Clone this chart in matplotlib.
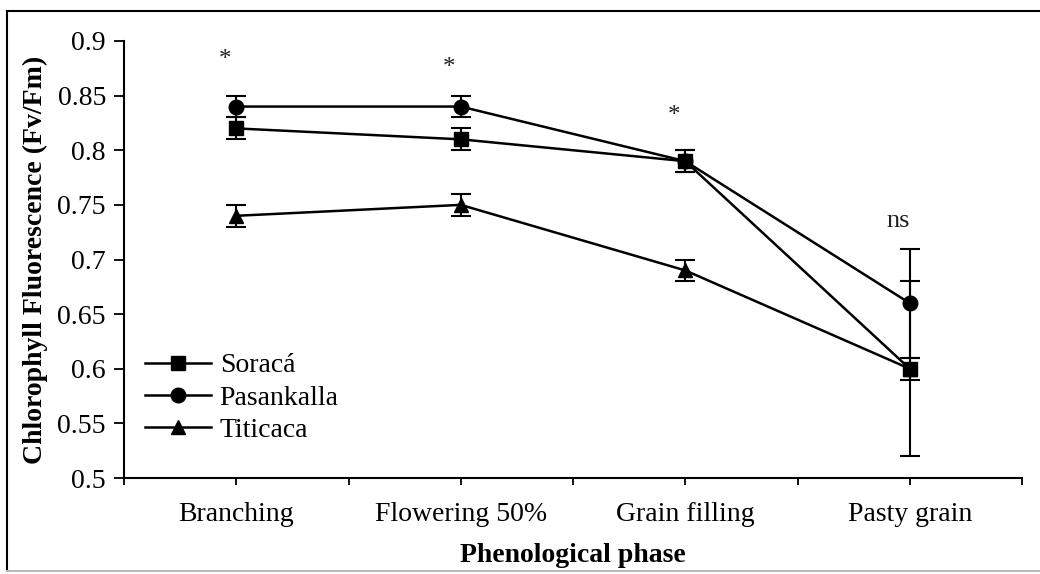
import numpy as np
import matplotlib
matplotlib.use("Agg")
import matplotlib.pyplot as plt
from matplotlib.lines import Line2D

# Data
phases = ["Branching", "Flowering 50%", "Grain filling", "Pasty grain"]
soraca = [0.82, 0.81, 0.79, 0.60]
soraca_err = [0.01, 0.01, 0.01, 0.01]
pasankalla = [0.84, 0.84, 0.79, 0.66]
pasankalla_err = [0.01, 0.01, 0.01, 0.05]
titicaca = [0.74, 0.75, 0.69, 0.60]
titicaca_err = [0.01, 0.01, 0.01, 0.08]
signif = ["*", "*", "*", "ns"]
signif_y = [0.883, 0.875, 0.831, 0.735]

plt.rcParams['font.family'] = ['Liberation Serif', 'DejaVu Serif']

W, H = 1040, 574
fig = plt.figure(figsize=(W / 100, H / 100), dpi=100)
ax = fig.add_axes([124 / W, 1 - 478 / H, (1022 - 124) / W, (478 - 41) / H])

x = np.arange(len(phases))
style = dict(color='black', lw=1.8, elinewidth=1.5, capsize=7, capthick=1.5,
             markersize=10.5)
ax.errorbar(x, titicaca, yerr=titicaca_err, marker='^', **style)
ax.errorbar(x, pasankalla, yerr=pasankalla_err, marker='o', **style)
ax.errorbar(x, soraca, yerr=soraca_err, marker='s', **style)

for xi, s, yv in zip(x, signif, signif_y):
    fs = 18 if s == "*" else 19
    ax.text(xi - 0.05, yv, s, ha='center', va='center', fontsize=fs, color='#222222')

ax.set_xlim(-0.5, 3.5)
ax.set_ylim(0.5, 0.9)
ax.set_yticks(np.arange(0.5, 0.901, 0.05))
ax.set_yticklabels(["0.5", "0.55", "0.6", "0.65", "0.7", "0.75", "0.8", "0.85", "0.9"])
ticks = np.arange(-0.5, 3.51, 0.5)
ax.set_xticks(ticks)
ax.set_xticklabels([phases[int(t)] if t >= 0 and t == int(t) else "" for t in ticks])
ax.tick_params(axis='y', direction='out', length=7, width=1.3, labelsize=20, pad=6)
ax.tick_params(axis='x', direction='out', length=5, width=1.3, labelsize=20, pad=12)

for side in ['top', 'right']:
    ax.spines[side].set_visible(False)
for side in ['left', 'bottom']:
    ax.spines[side].set_linewidth(1.5)

ax.set_ylabel("Chlorophyll Fluorescence (Fv/Fm)", fontsize=20, fontweight='bold', labelpad=7)
ax.set_xlabel("Phenological phase", fontsize=20, fontweight='bold', labelpad=12)

handles = [Line2D([], [], color='black', lw=1.8, marker=m, markersize=10.5)
           for m in ['s', 'o', '^']]
ax.legend(handles, ['Soracá', 'Pasankalla', 'Titicaca'],
          loc='center left', bbox_to_anchor=(0.023, 0.183), frameon=False,
          fontsize=20, handlelength=2.4, handletextpad=0.3, labelspacing=0.25,
          borderpad=0, borderaxespad=0)

# outer frame of the original figure
fig.add_artist(Line2D([7 / W, 7 / W], [1 - 11 / H, 1 - 571 / H], color='black', lw=1.5))
fig.add_artist(Line2D([7 / W, 1], [1 - 11 / H, 1 - 11 / H], color='black', lw=1.5))
fig.add_artist(Line2D([7 / W, 1], [1 - 571 / H, 1 - 571 / H], color='#bbbbbb', lw=1.5))

fig.savefig("out.png", dpi=100)
